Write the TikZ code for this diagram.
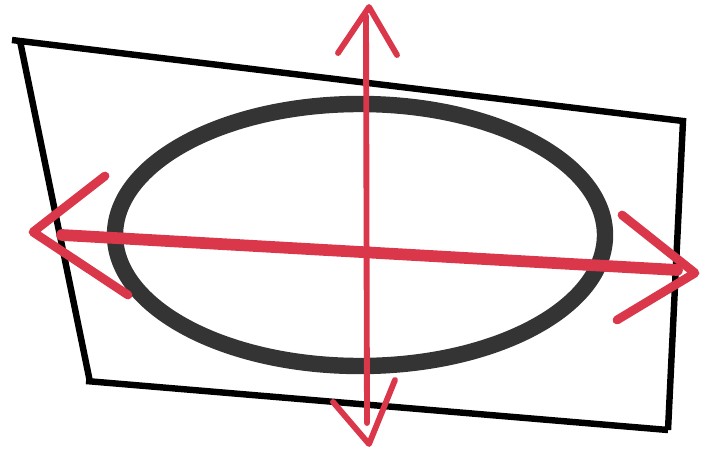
\documentclass[tikz,border=0pt]{standalone}
\usepackage{tikz}
\definecolor{sketchred}{RGB}{218,55,75}
\definecolor{ringgray}{RGB}{52,52,52}
\tikzset{
  frame/.style={draw=black, line width=5.5pt, line join=miter},
  ring/.style={draw=ringgray, line width=14pt},
  axisline/.style={draw=sketchred, line width=10pt, line cap=round},
  axishead/.style={draw=sketchred, line width=7.5pt, line cap=round, line join=round},
  tiltline/.style={draw=sketchred, line width=5pt, line cap=round, line join=round}
}
\begin{document}
\begin{tikzpicture}[x=0.03cm,y=-0.03cm]
\useasboundingbox (0,0) rectangle (706,452);

% tilted plane
\coordinate (tl) at (20,41);
\coordinate (tr) at (683,121);
\coordinate (br) at (668,430);
\coordinate (bl) at (90,382);
\draw[frame] (12,40) -- (tl) -- (tr) -- (br);
\draw[frame] (tl) -- (bl);
\draw[frame] (86,381) -- (br);

% ellipse
\coordinate (c) at (360,235);
\draw[ring] (c) ellipse [x radius=245, y radius=131];

% long axis
\coordinate (lt) at (33,232);
\coordinate (rt) at (695,273);
\draw[axisline] (62,235) -- (677,270);
\draw[axishead] (105,176) -- (lt) -- (128,295);
\draw[axishead] (622,215) -- (rt) -- (617,320);

% short axis
\coordinate (tt) at (369,7);
\coordinate (bt) at (369,444);
\draw[tiltline] (366,16) -- (367,423);
\draw[tiltline] (338,53) -- (tt) -- (397,55);
\draw[tiltline] (333,402) -- (bt) -- (395,380);
\end{tikzpicture}
\end{document}
